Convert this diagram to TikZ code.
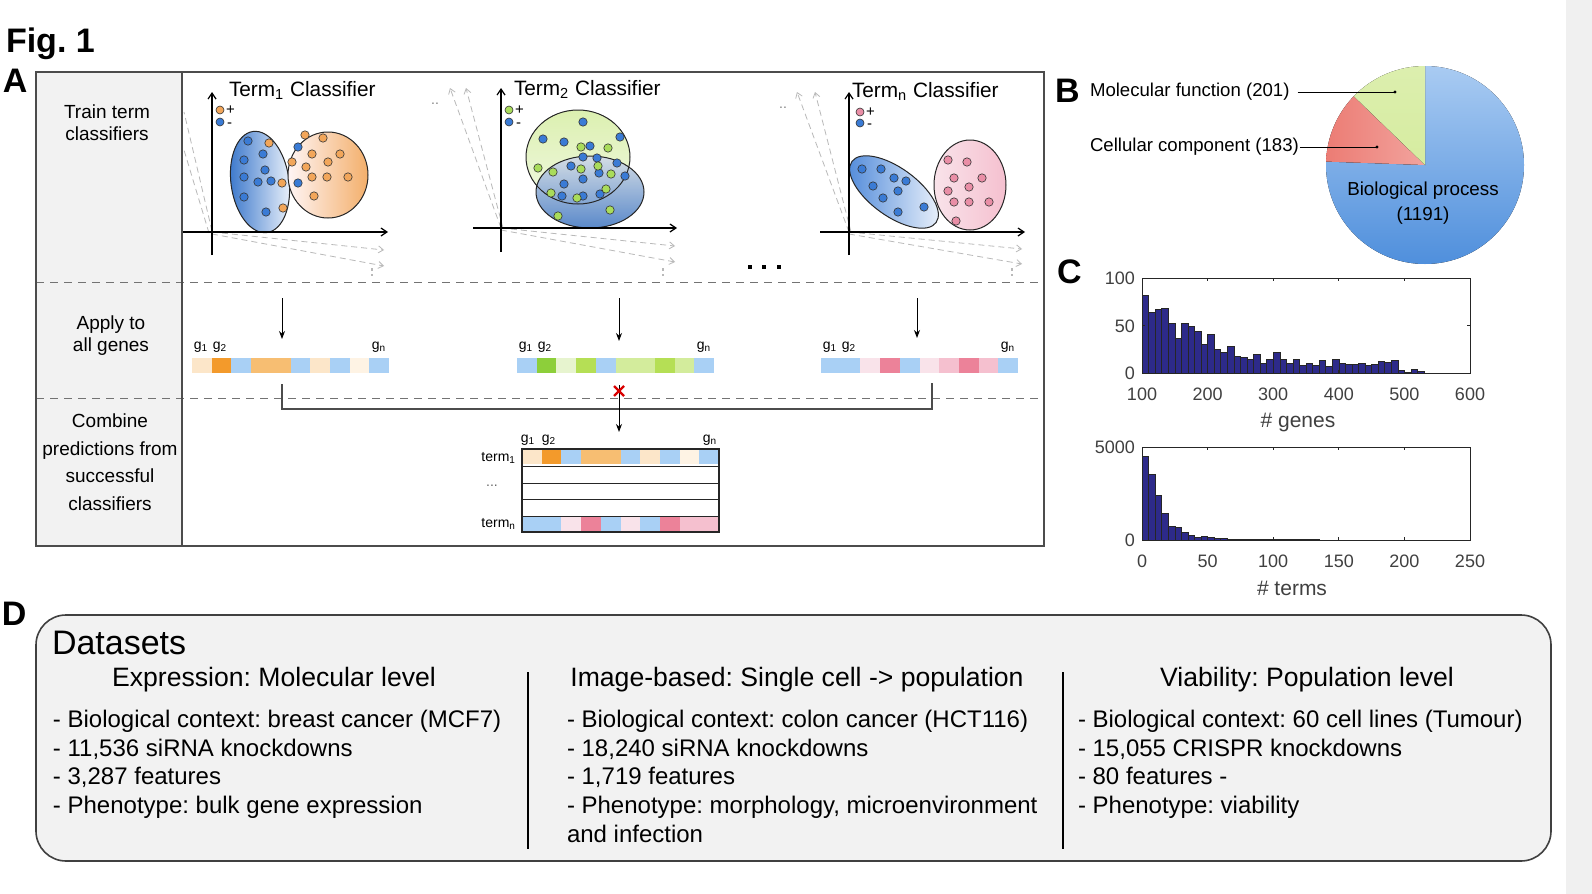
\documentclass[tikz,border=0pt]{standalone}
\usepackage{fontspec}
\setmainfont{Liberation Sans}
\usetikzlibrary{arrows.meta, positioning}
\frenchspacing

\definecolor{colfill}{HTML}{F2F2F2}
\definecolor{dotblue}{HTML}{3A7BD5}
\definecolor{dotorange}{HTML}{F2A65A}
\definecolor{dotgreen}{HTML}{A9DC5B}
\definecolor{dotpink}{HTML}{E98EA6}
\definecolor{gpeach}{HTML}{FCE6C9}
\definecolor{gorange}{HTML}{F39A2B}
\definecolor{gorangeL}{HTML}{F7BE72}
\definecolor{gblue}{HTML}{A9D0F5}
\definecolor{gpale}{HTML}{FEF3E4}
\definecolor{ggreen}{HTML}{8DCF3A}
\definecolor{ggreenL}{HTML}{D3EC9C}
\definecolor{ggreenM}{HTML}{B5DF55}
\definecolor{ggreenP}{HTML}{E7F4CF}
\definecolor{gpink}{HTML}{EC8299}
\definecolor{gpinkL}{HTML}{F5C0CF}
\definecolor{gpinkP}{HTML}{F9E3EA}
\definecolor{histblue}{HTML}{2D2A8A}
\definecolor{pieblueT}{HTML}{A9CBF2}
\definecolor{pieblueB}{HTML}{4F8FDC}
\definecolor{piered}{HTML}{EC7C74}
\definecolor{piegreen}{HTML}{D6ECA0}

% dots of one class: style, list x/y
\newcommand\putdots[2]{\foreach \x/\y in {#2} \draw[#1] (\x,\y) circle[radius=4.2];}
% a row of ten gene cells: x0, y0, colours
\newcommand\cellrow[3]{\foreach \c [count=\i from 0] in {#3}
  \fill[\c] ({#1+\i*19.7},#2) rectangle ++(19.7,15);}

\begin{document}
\begin{tikzpicture}[x=0.5pt, y=-0.5pt,
    every node/.style={inner sep=0pt, outer sep=0pt},
    lbl/.style={font=\fontsize{17}{20}\selectfont\bfseries},
    side/.style={align=center, font=\fontsize{9.5}{11}\selectfont},
    ttl/.style={anchor=west, text depth=0pt, font=\fontsize{10.4}{12}\selectfont},
    leg/.style={anchor=west, text height=4pt, text depth=0pt, font=\fontsize{7.5}{8}\selectfont},
    gl/.style={font=\fontsize{7}{8}\selectfont},
    frame/.style={draw=black!70, line width=0.6pt},
    sep/.style={draw=black!55, line width=0.5pt, dash pattern=on 4pt off 3pt},
    axis/.style={line width=0.6pt, -{Straight Barb[length=3pt,width=4pt]}},
    ghost/.style={draw=gray!55, line width=0.4pt, dash pattern=on 3pt off 2pt,
                  -{Straight Barb[length=2.5pt,width=3.5pt]}},
    arr/.style={line width=0.5pt, -{Stealth[length=4pt,width=3pt]}},
    link/.style={draw=black!70, line width=0.6pt},
    rim/.style={draw=black!85, line width=0.5pt},
    bdot/.style={fill=dotblue, draw=black!80, line width=0.3pt},
    odot/.style={fill=dotorange, draw=black!80, line width=0.3pt},
    gdot/.style={fill=dotgreen, draw=black!80, line width=0.3pt},
    pdot/.style={fill=dotpink, draw=black!80, line width=0.3pt},
    hbar/.style={fill=histblue, draw=black!85, line width=0.25pt},
    hframe/.style={draw=black!85, line width=0.5pt},
    tlab/.style={font=\fontsize{9}{10}\selectfont, text=black!75},
    alab/.style={font=\fontsize{10.5}{12}\selectfont, text=black!75},
    pielab/.style={font=\fontsize{9.3}{12}\selectfont},
    dhead/.style={font=\fontsize{13.3}{16}\selectfont},
    dtext/.style={anchor=north west, align=left, font=\fontsize{12}{14.35}\selectfont}
  ]
  \fill[white] (0,0) rectangle (1592,894);
  \useasboundingbox (0,0) rectangle (1592,894);
  \fill[black!6] (1566,0) rectangle (1592,894);

  % panel labels
  \node[lbl, anchor=west] (fig) at (6,44) {Fig. 1};
  \node[lbl, anchor=west] (pA) at (3,81) {A};
  \node[lbl, anchor=west] (pB) at (1055,91) {B};
  \node[lbl, anchor=west] (pC) at (1057,272) {C};
  \node[lbl, anchor=west] (pD) at (2,614) {D};

  % ---------- panel A ----------
  \fill[colfill] (36,72) rectangle (182,546);
  \draw[sep] (36,282) -- (1044,282);
  \draw[sep] (36,398) -- (1044,398);
  \draw[frame] (36,72) rectangle (1044,546);
  \draw[frame] (182,72) -- (182,546);

  \node[side] (train) at (107,123) {Train term\\classifiers};
  \node[side] (apply) at (111,336) {Apply to\\all genes};
  \node[side, font=\fontsize{9.5}{13.75}\selectfont] (combine) at (110,462)
    {Combine\\predictions from\\successful\\classifiers};

  % classifier 1
  \draw[ghost, -] (212,231) -- (184,112);
  \draw[ghost, -] (209,233) -- (184,150);
  \draw[ghost] (212,232) -- (384,250);
  \draw[ghost] (212,234) -- (384,266);
  \draw[draw=gray!55, dash pattern=on 1.5pt off 1.5pt, line width=0.6pt] (372,268) -- (372,276);
  \fill[rotate around={8:(260,182)}, left color=dotblue!95!black, right color=dotblue!8]
    (260,182) ellipse[x radius=29, y radius=51];
  \draw[rim, rotate around={8:(260,182)}] (260,182) ellipse[x radius=29, y radius=51];
  \draw[rim, left color=red!4, right color=dotorange!90] (328,175) ellipse[x radius=40, y radius=43];
  \putdots{bdot}{248/141, 263/154, 244/160, 265/170, 244/177, 258/182, 271/181,
                 244/197, 266/212, 298/147, 298/183}
  \putdots{odot}{269/143, 305/135, 323/138, 312/154, 340/154, 292/162, 306/167,
                 328/162, 312/177, 327/177, 348/177, 282/183, 314/196, 283/208}
  \draw[axis] (212,255) -- (212,92);
  \draw[axis] (183,232) -- (388,232);
  \node[ttl] (term1) at (229,89) {Term\textsubscript{1} Classifier};
  \draw[odot] (220,110) circle[radius=4];
  \draw[bdot] (220,122) circle[radius=4];
  \node[leg] (plus1) at (226,110) {+};
  \node[leg] (minus1) at (227,123) {-};

  % classifier 2
  \node[gl, text=gray] (dd2) at (435,104) {..};
  \draw[ghost] (501,228) -- (450,88);
  \draw[ghost] (503,228) -- (466,88);
  \draw[ghost] (501,228) -- (675,246);
  \draw[ghost] (501,230) -- (675,262);
  \draw[draw=gray!55, dash pattern=on 1.5pt off 1.5pt, line width=0.6pt] (663,268) -- (663,276);
  \fill[top color=ggreenL!80, bottom color=ggreenP!60] (578,157) ellipse[x radius=52, y radius=47];
  \fill[top color=gblue!25, bottom color=dotblue!80, fill opacity=0.9] (590,192) ellipse[x radius=54, y radius=36];
  \draw[rim] (578,157) ellipse[x radius=52, y radius=47];
  \draw[rim] (590,192) ellipse[x radius=54, y radius=36];
  \putdots{bdot}{583/122, 543/139, 564/142, 620/137, 590/146, 583/157, 597/158, 571/166,
                 617/163, 625/176, 583/179, 564/184, 599/173, 562/196, 583/196, 600/194}
  \putdots{gdot}{581/147, 608/148, 538/168, 553/172, 581/169, 598/166, 611/174, 551/193,
                 577/198, 606/189, 610/210, 558/216}
  \draw[axis] (501,252) -- (501,88);
  \draw[axis] (473,228) -- (677,228);
  \node[ttl] (term2) at (514,88) {Term\textsubscript{2} Classifier};
  \draw[gdot] (509,110) circle[radius=4];
  \draw[bdot] (509,122) circle[radius=4];
  \node[leg] (plus2) at (515,110) {+};
  \node[leg] (minus2) at (516,123) {-};

  % ellipsis between classifiers
  \foreach \x [count=\k] in {750,764,779}
    \fill[black] (\x-2,265) rectangle (\x+2,269);

  % classifier n
  \node[gl, text=gray] (ddn) at (783,108) {..};
  \draw[ghost] (849,232) -- (797,92);
  \draw[ghost] (851,232) -- (815,92);
  \draw[ghost] (849,232) -- (1022,249);
  \draw[ghost] (849,234) -- (1022,264);
  \draw[draw=gray!55, dash pattern=on 1.5pt off 1.5pt, line width=0.6pt] (1012,268) -- (1012,276);
  \draw[rim, rotate around={-36:(894,192)}, left color=dotblue!90, right color=dotblue!8]
    (894,192) ellipse[x radius=52, y radius=24];
  \draw[rim, left color=gpinkP, right color=gpinkL] (970,185) ellipse[x radius=36, y radius=45];
  \putdots{bdot}{862/169, 881/169, 894/178, 906/181, 873/186, 898/191, 883/198, 924/207, 898/212}
  \putdots{pdot}{948/160, 967/162, 954/178, 982/178, 969/187, 948/191, 954/202, 969/202,
                 989/202, 956/221}
  \draw[axis] (849,255) -- (849,92);
  \draw[axis] (820,232) -- (1025,232);
  \node[ttl] (termn) at (852,90) {Term\textsubscript{n} Classifier};
  \draw[pdot] (860,112) circle[radius=4];
  \draw[bdot] (860,123) circle[radius=4];
  \node[leg] (plusn) at (866,112) {+};
  \node[leg] (minusn) at (867,124) {-};

  % apply to all genes
  \coordinate (in1) at (282,298);  \coordinate (out1) at (282,339);
  \coordinate (in2) at (619,298);  \coordinate (out2) at (619,341);
  \coordinate (in3) at (917,298);  \coordinate (out3) at (917,338);
  \draw[arr] (in1) -- (out1);
  \draw[arr] (in2) -- (out2);
  \draw[arr] (in3) -- (out3);
  \cellrow{192}{358}{gpeach,gorange,gblue,gorangeL,gorangeL,gblue,gpeach,gblue,gpale,gblue}
  \cellrow{517}{358}{gblue,ggreen,ggreenP,ggreenM,gblue,ggreenL,ggreenL,ggreenM,ggreenL,gblue}
  \cellrow{821}{358}{gblue,gblue,gpinkP,gpink,gblue,gpinkP,gpinkL,gpink,gpinkL,gblue}
  \foreach \gx/\nm in {192/a, 517/b, 821/c} {
    \node[gl] (g1\nm) at (\gx+9,347) {g\textsubscript{1}};
    \node[gl] (g2\nm) at (\gx+28,347) {g\textsubscript{2}};
    \node[gl] (gn\nm) at (\gx+187,347) {g\textsubscript{n}};
  }

  % combine
  \coordinate (b1) at (282,384);
  \coordinate (b3) at (932,383);
  \coordinate (b2) at (619,385);
  \coordinate (mtop) at (619,432);
  \draw[link] (b1) -- (282,409) -- (932,409) -- (b3);
  \draw[arr] (b2) -- (mtop);
  \draw[red!85!black, line width=1.1pt] (614,386) -- (624,396) (614,396) -- (624,386);

  \cellrow{522}{449}{gpeach,gorange,gblue,gorangeL,gorangeL,gblue,gpeach,gblue,gpale,gblue}
  \cellrow{522}{516}{gblue,gblue,gpinkP,gpink,gblue,gpinkP,gblue,gpink,gpinkL,gpinkL}
  \draw[frame, draw=black!85] (522,449) rectangle (719,532);
  \foreach \yy in {466,483,499,516} \draw[black!85, line width=0.5pt] (522,\yy) -- (719,\yy);
  \node[gl] (mg1) at (528,440) {g\textsubscript{1}};
  \node[gl] (mg2) at (549,440) {g\textsubscript{2}};
  \node[gl] (mgn) at (710,440) {g\textsubscript{n}};
  \node[gl, anchor=east] (mt1) at (516,458) {term\textsubscript{1}};
  \node[gl, text=black!60] (mtd) at (492,486) {...};
  \node[gl, anchor=east] (mtn) at (516,524) {term\textsubscript{n}};

  % ---------- panel B ----------
  \coordinate (piec) at (1425,165);
  \begin{scope}[shift={(1425,165)}, y=0.5pt]
    \fill[top color=pieblueT, bottom color=pieblueB]
      (0,0) -- (90:99) arc[start angle=90, end angle=-182, radius=99] -- cycle;
    \fill[left color=piered, right color=piered!70]
      (0,0) -- (178:99) arc[start angle=178, end angle=136, radius=99] -- cycle;
    \fill[top color=piegreen!85, bottom color=piegreen]
      (0,0) -- (136:99) arc[start angle=136, end angle=90, radius=99] -- cycle;
  \end{scope}
  \node[pielab, anchor=west] (molfn) at (1090,92) {Molecular function (201)};
  \node[pielab, anchor=west] (cellcomp) at (1090,147) {Cellular component (183)};
  \node[pielab, align=center, font=\fontsize{9.4}{12.5}\selectfont] (bioproc) at (1423,203)
    {Biological process\\(1191)};
  \coordinate (mfdot) at (1395,92);
  \coordinate (ccdot) at (1377,147);
  \draw[line width=0.5pt] (molfn.east) ++(8,0) -- (mfdot);
  \draw[line width=0.5pt] (cellcomp.east) ++(1,0) -- (ccdot);
  \fill (mfdot) circle[radius=1.6];
  \fill (ccdot) circle[radius=1.6];

  % ---------- panel C ----------
  \foreach \h [count=\i from 0] in {82,64,67,68,52,37,52,49,44,30,41,25,22,28,18,17,14,20,10,15,
      22,14,10,15,8,10,8,13,7,14,10,9,9,10,8,9,12,11,13,3,1,4,2}
    \draw[hbar] ({1142+\i*6.56},373) rectangle ++(6.56,{-0.95*\h});
  \draw[hframe] (1142,278) rectangle (1470,373);
  \foreach \k/\v in {0/100,1/200,2/300,3/400,4/500,5/600} {
    \draw[hframe] ({1142+\k*65.6},373) -- ++(0,-3);
    \draw[hframe] ({1142+\k*65.6},278) -- ++(0,3);
    \node[tlab] (ga\k) at ({1142+\k*65.6},394) {\v};
  }
  \draw[hframe] (1142,325.5) -- ++(3,0);
  \draw[hframe] (1470,325.5) -- ++(-3,0);
  \node[tlab, anchor=east] (gy0) at (1135,373) {0};
  \node[tlab, anchor=east] (gy50) at (1135,326) {50};
  \node[tlab, anchor=east] (gy100) at (1135,278) {100};
  \node[alab] (genes) at (1298,422) {\# genes};

  \foreach \h [count=\i from 0] in {4500,3520,2390,1430,750,680,410,270,140,180,140,90,70,50,
      40,35,30,28,25,22,20,20,18,16,15,15,14,13,12,12,11,10,10,10,9,9,8,8,8,7,7,7,6,6,6,5,5,5}
    \draw[hbar] ({1142+\i*6.56},540) rectangle ++(6.56,{-0.0186*\h});
  \draw[hframe] (1142,447) rectangle (1470,540);
  \foreach \k/\v in {0/0,1/50,2/100,3/150,4/200,5/250} {
    \draw[hframe] ({1142+\k*65.6},540) -- ++(0,-3);
    \draw[hframe] ({1142+\k*65.6},447) -- ++(0,3);
    \node[tlab] (ta\k) at ({1142+\k*65.6},561) {\v};
  }
  \node[tlab, anchor=east] (ty0) at (1135,540) {0};
  \node[tlab, anchor=east] (ty5000) at (1135,447) {5000};
  \node[alab] (terms) at (1292,588) {\# terms};

  % ---------- panel D ----------
  \draw[fill=colfill, draw=black!75, line width=0.8pt, rounded corners=15pt]
    (36,615) rectangle (1551,861);
  \node[anchor=west, font=\fontsize{17}{20}\selectfont] (datasets) at (52,643) {Datasets};
  \node[dhead] (hexpr) at (274,680) {Expression: Molecular level};
  \node[dhead] (himg) at (797,680) {Image-based: Single cell -> population};
  \node[dhead] (hvia) at (1307,680) {Viability: Population level};
  \draw[line width=1pt] (528,672) -- (528,849);
  \draw[line width=1pt] (1063,672) -- (1063,849);
  \node[dtext] (expr) at (53,710)
    {- Biological context: breast cancer (MCF7)\\- 11,536 siRNA knockdowns\\- 3,287 features\\- Phenotype: bulk gene expression};
  \node[dtext] (img) at (567,710)
    {- Biological context: colon cancer (HCT116)\\- 18,240 siRNA knockdowns\\- 1,719 features\\- Phenotype: morphology, microenvironment\\and infection};
  \node[dtext] (via) at (1078,710)
    {- Biological context: 60 cell lines (Tumour)\\- 15,055 CRISPR knockdowns\\- 80 features -\\- Phenotype: viability};
\end{tikzpicture}
\end{document}
